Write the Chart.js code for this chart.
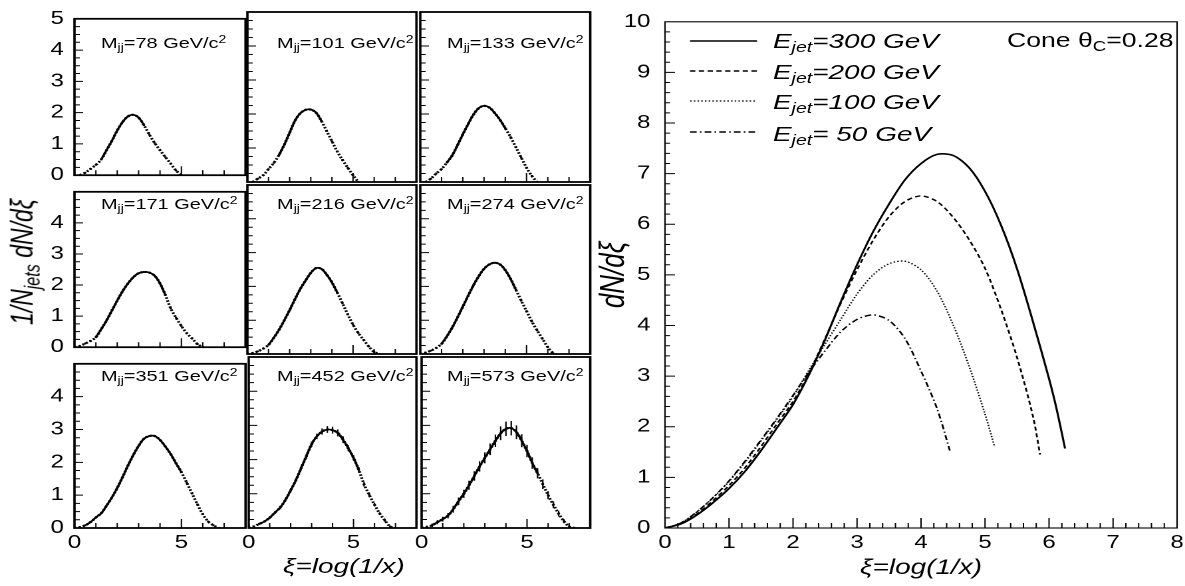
<!DOCTYPE html>
<html><head><meta charset="utf-8">
<script src="https://cdn.jsdelivr.net/npm/chart.js@4.4.1/dist/chart.umd.min.js"></script>
<style>
html,body{margin:0;padding:0;background:#fff;width:1185px;height:586px;overflow:hidden;}
#stage{position:absolute;left:0;top:0;width:891px;height:586px;transform:scaleX(1.33);transform-origin:0 0;font-family:"Liberation Sans",Arial,Helvetica,sans-serif;color:#000;}
#stage canvas{position:absolute;}
.t{position:absolute;white-space:nowrap;line-height:1;transform:translateY(-50%);}
.t sub,.t sup{line-height:0;font-size:0.7em;}
.t sub{vertical-align:-0.32em;}
.t sup{vertical-align:0.45em;}
.it{font-style:italic;}
</style></head><body><div id="stage"></div>
<script>
// ================= DATA =================
// left grid: 1/Njets dN/dxi versus xi, one curve per dijet mass
const xiGrid = [0,0.25,0.5,0.75,1,1.25,1.5,1.75,2,2.25,2.5,2.75,3,3.25,3.5,3.75,4,4.25,4.5,4.75,5,5.25,5.5,5.75,6,6.25,6.5,6.75,7,7.25];
const massValues = [78,101,133,171,216,274,351,452,573];
const dist78  = [null,0.0,0.08,0.2,0.33,0.5,0.8,1.1,1.43,1.7,1.88,1.93,1.84,1.6,1.3,1.03,0.8,0.58,0.37,0.15,0.0];
const dist101 = [null,0.0,0.1,0.2,0.38,0.56,0.8,1.1,1.45,1.8,2.02,2.12,2.13,2.04,1.8,1.5,1.2,0.9,0.65,0.42,0.2,0.0];
const dist133 = [null,0.0,0.1,0.25,0.38,0.57,0.78,1.08,1.4,1.7,1.98,2.17,2.24,2.19,2.03,1.83,1.58,1.32,1.02,0.72,0.42,0.18,0.0];
const dist171 = [0.0,0.04,0.12,0.2,0.32,0.58,0.86,1.18,1.5,1.8,2.05,2.25,2.38,2.42,2.4,2.3,2.05,1.68,1.25,0.95,0.68,0.45,0.28,0.1,0.0];
const dist216 = [0.0,0.03,0.08,0.16,0.27,0.48,0.72,1.0,1.3,1.62,1.92,2.17,2.4,2.54,2.52,2.35,2.12,1.82,1.5,1.17,0.87,0.62,0.42,0.22,0.06,0.0];
const dist274 = [0.0,0.04,0.1,0.18,0.3,0.52,0.78,1.08,1.4,1.72,2.03,2.3,2.52,2.65,2.7,2.65,2.48,2.22,1.9,1.58,1.27,0.96,0.7,0.45,0.2,0.02];
const dist351 = [0.0,0.03,0.08,0.18,0.32,0.45,0.68,0.93,1.22,1.55,1.9,2.22,2.5,2.72,2.8,2.8,2.68,2.48,2.25,1.97,1.7,1.38,1.05,0.72,0.42,0.2,0.08,0.0];
const dist452 = [0.0,0.05,0.12,0.19,0.3,0.45,0.6,0.82,1.1,1.4,1.75,2.1,2.45,2.68,2.82,2.88,2.86,2.78,2.58,2.33,2.05,1.7,1.28,0.97,0.68,0.42,0.22,0.04,0.0];
const dist573 = [0.0,0.03,0.08,0.17,0.26,0.36,0.55,0.78,1.0,1.25,1.52,1.8,2.05,2.3,2.55,2.77,2.9,2.92,2.8,2.55,2.25,1.9,1.6,1.28,0.96,0.68,0.42,0.2,0.04,0.0];
const err452 = [0,0.02,0.03,0.03,0.04,0.04,0.05,0.05,0.06,0.06,0.07,0.07,0.08,0.08,0.09,0.1,0.1,0.1,0.1,0.09,0.08,0.08,0.07,0.06,0.05,0.04,0.04,0.03,0];
const err573 = [0,0.04,0.05,0.06,0.07,0.08,0.1,0.11,0.12,0.13,0.14,0.15,0.16,0.17,0.18,0.2,0.21,0.21,0.2,0.19,0.18,0.17,0.15,0.14,0.12,0.1,0.08,0.06,0.04,0];
// xi range covered by the fitted (solid) curve in each panel
const fit78 = [1.2,3.4], fit101 = [1.4,3.6], fit133 = [1.2,4.0];
const fit171 = [1.0,4.4], fit216 = [1.0,4.4], fit274 = [1.0,4.6];
const fit351 = [0.5,5.2], fit452 = [0.5,5.4], fit573 = [0.5,5.5];
const smallXTicks = [0,5];
const smallYTicksFirstRow = [0,1,2,3,4,5];
const smallYTicksOtherRows = [0,1,2,3,4];

// right panel: dN/dxi versus xi for four jet energies
const xi300 = [0,0.25,0.5,0.75,1,1.25,1.5,1.75,2,2.25,2.5,2.75,3,3.25,3.5,3.75,4,4.25,4.5,4.75,5,5.25,5.5,5.75,6,6.1,6.17,6.25];
const dndxi300 = [0,0.08,0.26,0.5,0.78,1.12,1.53,1.98,2.44,3.03,3.72,4.48,5.2,5.85,6.4,6.88,7.2,7.38,7.36,7.12,6.65,5.98,5.12,4.07,2.95,2.45,2.05,1.57];
const xi200 = [0,0.25,0.5,0.75,1,1.25,1.5,1.75,2,2.25,2.5,2.75,3,3.25,3.5,3.75,4,4.25,4.5,4.75,5,5.25,5.5,5.75,5.86];
const dndxi200 = [0,0.09,0.28,0.54,0.84,1.19,1.61,2.06,2.5,3.06,3.74,4.45,5.1,5.68,6.15,6.45,6.56,6.45,6.14,5.7,5.13,4.32,3.37,2.2,1.45];
const xi100 = [0,0.25,0.5,0.75,1,1.25,1.5,1.75,2,2.25,2.5,2.75,3,3.25,3.5,3.75,4,4.25,4.5,4.75,5,5.15];
const dndxi100 = [0,0.1,0.32,0.6,0.92,1.3,1.72,2.15,2.6,3.12,3.63,4.13,4.62,5.0,5.22,5.27,5.1,4.68,4.02,3.2,2.25,1.6];
const xi50 = [0,0.25,0.5,0.75,1,1.25,1.5,1.75,2,2.25,2.5,2.75,3,3.25,3.5,3.75,4,4.25,4.45];
const dndxi50 = [0,0.1,0.32,0.6,0.93,1.32,1.74,2.17,2.62,3.08,3.5,3.88,4.12,4.21,4.1,3.74,3.1,2.36,1.53];
const energyLabels = ['300','200','100','\u00a050'];

// ================= LAYOUT =================
const FONT = '"Liberation Sans", Arial, Helvetica, sans-serif';
const stage = document.getElementById('stage');
const colX = [55.6,185.7,315.8], colW = [128.6,127.1,127.8];
const rowY = [12,185,357], rowH = [170,169,171];

function addCanvas(left, top, w, h) {
  const cv = document.createElement('canvas');
  cv.width = w; cv.height = h;
  cv.style.left = left + 'px'; cv.style.top = top + 'px';
  stage.appendChild(cv);
  return cv;
}
function addText(html, left, top, size, italic, transform) {
  const d = document.createElement('div');
  d.className = 't' + (italic ? ' it' : '');
  d.innerHTML = html;
  d.style.left = left + 'px'; d.style.top = top + 'px'; d.style.fontSize = size + 'px';
  if (transform) d.style.transform = transform;
  stage.appendChild(d);
}

// frame + inward ROOT-style ticks
const rootAxes = {
  id: 'rootAxes',
  afterDatasetsDraw(chart, args, o) {
    const {ctx, chartArea: a, scales: {x, y}} = chart;
    ctx.save();
    ctx.strokeStyle = '#000';
    ctx.lineWidth = o.tickW;
    ctx.beginPath();
    const nx = Math.round((x.max - x.min) / o.xMinor);
    for (let k = 1; k < nx; k++) {
      const v = x.min + k * o.xMinor;
      const r = v / o.xMajor, major = Math.abs(r - Math.round(r)) < 1e-6;
      const px = x.getPixelForValue(v);
      ctx.moveTo(px, a.bottom); ctx.lineTo(px, a.bottom - (major ? o.xMajLen : o.xMinLen));
    }
    const ny = Math.round((y.max - y.min) / o.yMinor);
    for (let k = 1; k < ny; k++) {
      const v = y.min + k * o.yMinor;
      const r = v / o.yMajor, major = Math.abs(r - Math.round(r)) < 1e-6;
      const py = y.getPixelForValue(v);
      ctx.moveTo(a.left, py); ctx.lineTo(a.left + (major ? o.yMajLen : o.yMinLen), py);
    }
    ctx.stroke();
    ctx.lineWidth = o.frame;
    ctx.strokeRect(a.left, a.top, a.width, a.height);
    ctx.restore();
  }
};
const errorBars = {
  id: 'errorBars',
  afterDatasetsDraw(chart) {
    const {ctx, scales: {x, y}} = chart;
    chart.data.datasets.forEach(ds => {
      if (!ds.errors) return;
      ctx.save(); ctx.strokeStyle = '#000'; ctx.lineWidth = 1.1;
      ctx.beginPath();
      ds.data.forEach((p, k) => {
        const e = ds.errors[k];
        if (p.y == null || !e) return;
        const px = x.getPixelForValue(p.x);
        ctx.moveTo(px, y.getPixelForValue(p.y - e)); ctx.lineTo(px, y.getPixelForValue(p.y + e));
      });
      ctx.stroke(); ctx.restore();
    });
  }
};
const legendSamples = {
  id: 'legendSamples',
  afterDatasetsDraw(chart, args, o) {
    const ctx = chart.ctx;
    chart.data.datasets.forEach((ds, i) => {
      ctx.save();
      ctx.strokeStyle = ds.borderColor; ctx.lineWidth = ds.borderWidth;
      ctx.setLineDash(ds.borderDash || []);
      ctx.beginPath(); ctx.moveTo(o.x0, o.rows[i]); ctx.lineTo(o.x1, o.rows[i]); ctx.stroke();
      ctx.restore();
    });
  }
};

// ================= SMALL PANELS =================
const panelDists = [dist78,dist101,dist133,dist171,dist216,dist274,dist351,dist452,dist573];
const panelFits = [fit78,fit101,fit133,fit171,fit216,fit274,fit351,fit452,fit573];
const panelErrs = [null,null,null,null,null,null,null,err452,err573];

panelDists.forEach((dist, i) => {
  const c = i % 3, r = Math.floor(i / 3);
  const area = {x: colX[c], y: rowY[r], w: colW[c], h: rowH[r]};
  const showY = c === 0, showX = r === 2;
  const ml = showY ? 30 : 8;
  const mt = showY ? 12 : 4;
  const mb = showX ? 36 : (showY ? 12 : 4);
  const W = Math.ceil(area.w + ml + 8);
  const mr = W - ml - area.w;
  const H = Math.round(area.h + mt + mb);
  const cv = addCanvas(area.x - ml, area.y - mt, W, H);
  const pts = dist.map((v, k) => ({x: xiGrid[k], y: v}));
  const fr = panelFits[i];
  const fitPts = dist.map((v, k) => ({x: xiGrid[k], y: (xiGrid[k] >= fr[0] - 1e-9 && xiGrid[k] <= fr[1] + 1e-9) ? v : null}));
  const yTicks = r === 0 ? smallYTicksFirstRow : smallYTicksOtherRows;
  new Chart(cv, {
    type: 'line',
    data: {datasets: [
      {data: fitPts, borderColor: '#000', borderWidth: 1.7, pointRadius: 0, tension: 0.35, spanGaps: false},
      {data: pts, showLine: true, borderColor: '#000', borderWidth: 2.2, borderDash: [1.6, 1.6], tension: 0.35,
       pointStyle: 'rect', pointRadius: 1.2, pointBackgroundColor: '#000', pointBorderWidth: 0, errors: panelErrs[i]}
    ]},
    options: {
      responsive: false, animation: false, devicePixelRatio: 2, events: [],
      layout: {padding: {left: 0, right: mr, top: mt, bottom: 0}},
      plugins: {legend: {display: false}, tooltip: {enabled: false},
        rootAxes: {frame: 1.8, tickW: 1, xMinor: 1, xMajor: 5, xMinLen: 5, xMajLen: 9, yMinor: 0.25, yMajor: 1, yMinLen: 4, yMajLen: 6.5}},
      scales: {
        x: {type: 'linear', min: 0, max: 8, display: true,
          grid: {display: false, drawTicks: false}, border: {display: false},
          afterBuildTicks: s => { s.ticks = smallXTicks.map(v => ({value: v})); },
          afterFit: s => { s.height = mb; },
          ticks: {display: showX, color: '#000', font: {family: FONT, size: 18}, padding: 4, maxRotation: 0, autoSkip: false}},
        y: {type: 'linear', min: 0, max: 5, display: true,
          grid: {display: false, drawTicks: false}, border: {display: false},
          afterBuildTicks: s => { s.ticks = yTicks.map(v => ({value: v})); },
          afterFit: s => { s.width = ml; },
          ticks: {display: showY, color: '#000', font: {family: FONT, size: 18}, padding: 8, autoSkip: false}}
      }
    },
    plugins: [rootAxes, errorBars]
  });
  const labelX = [75.9, 208.3, 336.1], labelY = [42, 203, 375];
  addText('M<sub>jj</sub>=' + massValues[i] + ' GeV/c<sup>2</sup>', labelX[c], labelY[r], 15, false);
});

addText('1/N<sub>jets</sub> dN/d\u03be', 16.5, 262, 23, true, 'translate(-50%,-50%) rotate(-90deg)');
addText('\u03be=log(1/x)', 258.6, 565, 21, true, 'translate(-50%,-50%)');

// ================= RIGHT PANEL =================
(function () {
  const area = {x: 500, y: 17, w: 385, h: 511};
  const ml = 54, mt = 17, mb = 58, mrPad = 16;
  const W = Math.ceil(area.w + ml + mrPad);
  const mr = W - ml - area.w;
  const cv = addCanvas(area.x - ml, area.y - mt, W, area.h + mt + mb);
  const mk = (xs, ys) => xs.map((v, k) => ({x: v, y: ys[k]}));
  const common = {pointRadius: 0, borderColor: '#000', tension: 0.3, fill: false};
  new Chart(cv, {
    type: 'line',
    data: {datasets: [
      Object.assign({label: 'E=300 GeV', data: mk(xi300, dndxi300), borderWidth: 1.6, borderDash: []}, common),
      Object.assign({label: 'E=200 GeV', data: mk(xi200, dndxi200), borderWidth: 1.4, borderDash: [4, 2.6]}, common),
      Object.assign({label: 'E=100 GeV', data: mk(xi100, dndxi100), borderWidth: 1.3, borderDash: [1.2, 1.6]}, common),
      Object.assign({label: 'E=50 GeV', data: mk(xi50, dndxi50), borderWidth: 1.4, borderDash: [5, 2.4, 1.2, 2.4]}, common)
    ]},
    options: {
      responsive: false, animation: false, devicePixelRatio: 2, events: [],
      layout: {padding: {left: 0, right: mr, top: mt, bottom: 0}},
      plugins: {legend: {display: false}, tooltip: {enabled: false},
        rootAxes: {frame: 1.1, tickW: 1, xMinor: 0.2, xMajor: 1, xMinLen: 5, xMajLen: 10, yMinor: 0.2, yMajor: 1, yMinLen: 3.8, yMajLen: 7.5},
        legendSamples: {x0: 72.8, x1: 123.2, rows: [41, 71, 101, 132]}},
      scales: {
        x: {type: 'linear', min: 0, max: 8,
          grid: {display: false, drawTicks: false}, border: {display: false},
          afterFit: s => { s.height = mb; },
          ticks: {stepSize: 1, color: '#000', font: {family: FONT, size: 18}, padding: 4, maxRotation: 0, autoSkip: false},
          title: {display: true, text: '\u03be=log(1/x)', color: '#000', font: {family: FONT, size: 21, style: 'italic'}, padding: {top: 0, bottom: 5}}},
        y: {type: 'linear', min: 0, max: 10,
          grid: {display: false, drawTicks: false}, border: {display: false},
          afterFit: s => { s.width = ml; },
          ticks: {stepSize: 1, color: '#000', font: {family: FONT, size: 18}, padding: 11, autoSkip: false},
          title: {display: true, text: 'dN/d\u03be', color: '#000', font: {family: FONT, size: 26, style: 'italic'}, padding: {top: 0, bottom: 0}}}
      }
    },
    plugins: [rootAxes, legendSamples]
  });
  const legendY = [40, 70.5, 101, 132.5];
  energyLabels.forEach((e, i) => addText('E<sub>jet</sub>=' + e + ' GeV', 581.2, legendY[i], 21, true));
  addText('Cone \u03b8<sub>C</sub>=0.28', 757.1, 40, 20, false);
})();
</script></body></html>
